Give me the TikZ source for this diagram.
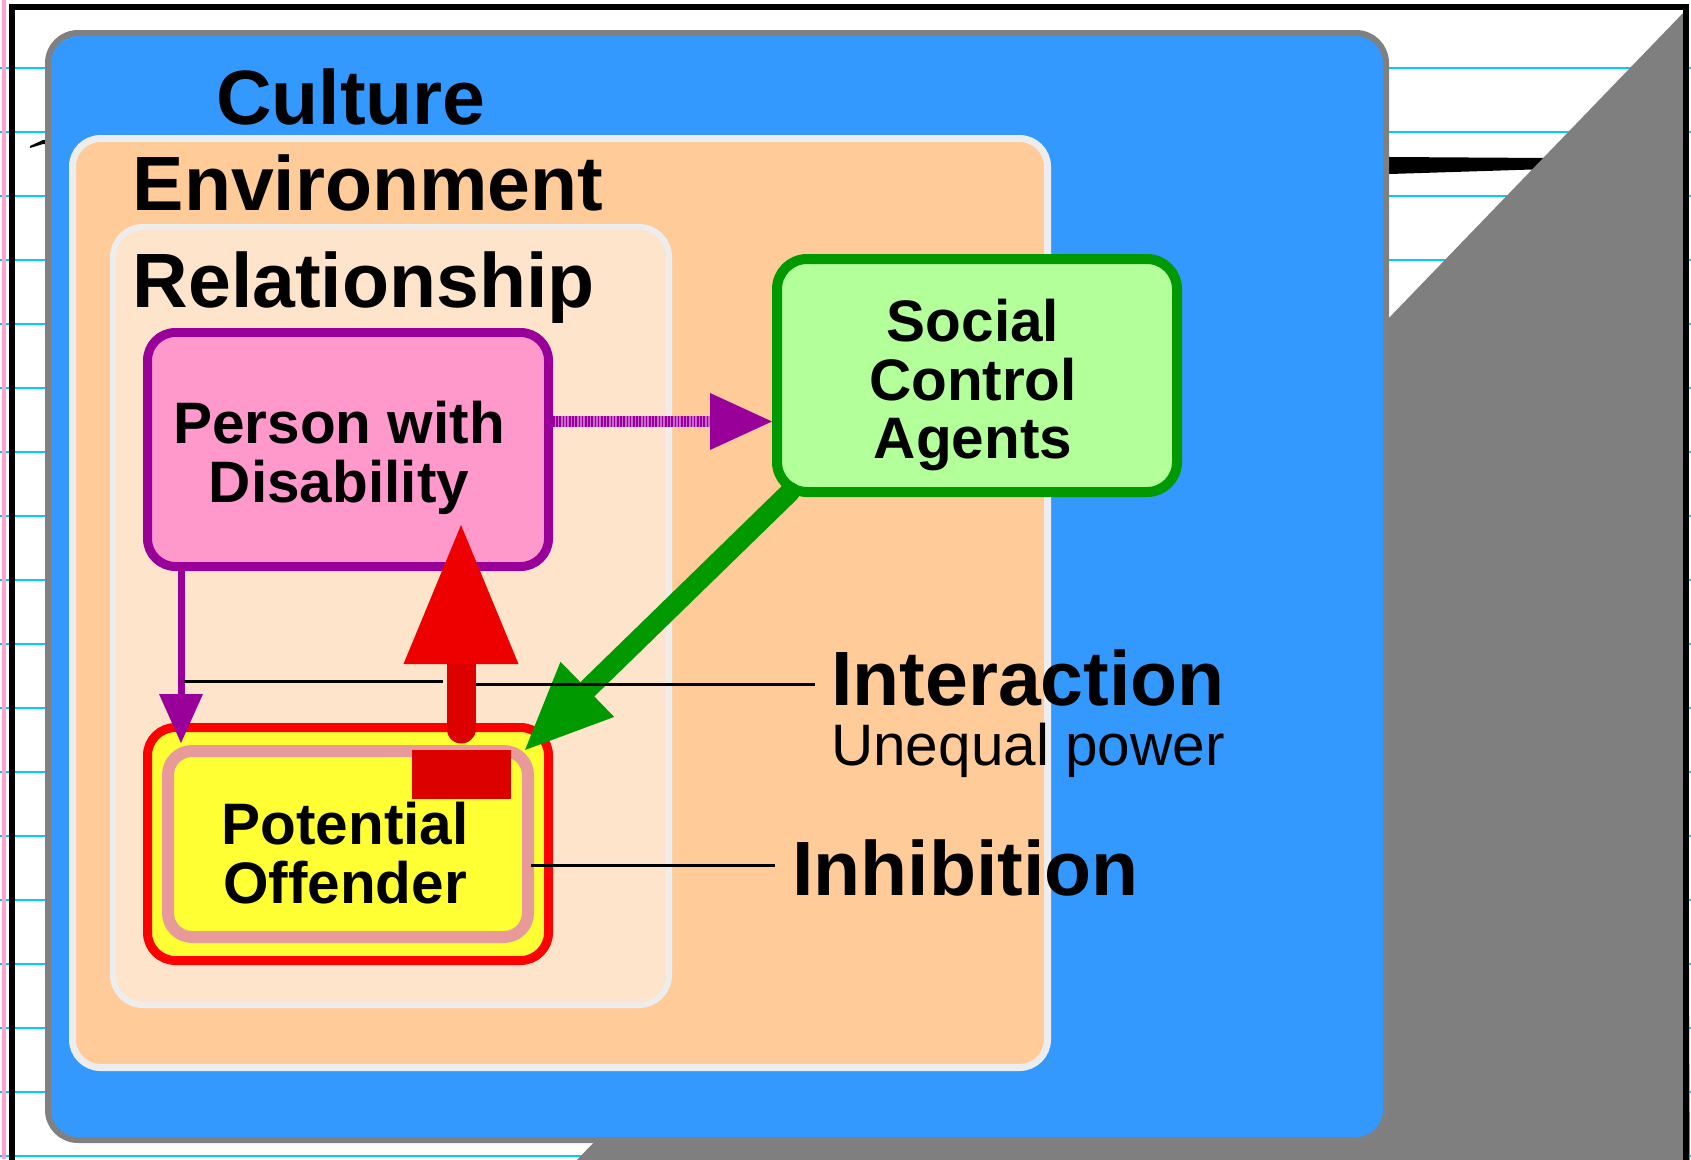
\documentclass[tikz,border=0pt]{standalone}
\usepackage{fontspec}
\setmainfont{Liberation Sans}
\usetikzlibrary{arrows.meta}
\definecolor{cblue}{HTML}{3399FF}
\definecolor{cgrayb}{HTML}{808080}
\definecolor{cshadow}{HTML}{7F7F7F}
\definecolor{envfill}{HTML}{FFCC99}
\definecolor{envborder}{HTML}{EDEDED}
\definecolor{relfill}{HTML}{FFE4CC}
\definecolor{pfill}{HTML}{FF99CC}
\definecolor{cpurple}{HTML}{990099}
\definecolor{plight}{HTML}{CC66CC}
\definecolor{sfill}{HTML}{B3FF99}
\definecolor{cgreen}{HTML}{009900}
\definecolor{cred}{HTML}{FF0000}
\definecolor{yfill}{HTML}{FFFF33}
\definecolor{pinkborder}{HTML}{E89A9A}
\definecolor{redshaft}{HTML}{DD0000}
\definecolor{redhead}{HTML}{EE0000}
\definecolor{ccyan}{HTML}{00CCFF}
\definecolor{pinkline}{HTML}{FFA0D0}
\begin{document}
\begin{tikzpicture}[x=1pt,y=-1pt,
  box/.style={rectangle,inner sep=0pt},
  bigtxt/.style={inner sep=0pt,anchor=base west,font=\fontsize{77}{77}\selectfont\bfseries},
  boxtxt/.style={inner sep=0pt,align=center,font=\fontsize{58.5}{58.5}\selectfont\bfseries},
  leader/.style={line width=3pt,black}]
\useasboundingbox (0,0) rectangle (1691,1159);
\clip (0,0) rectangle (1691,1159);
\fill[white] (0,0) rectangle (1691,1159);
% ruled lines
\foreach \k in {0,...,17}{
  \draw[ccyan,line width=1.5pt] (0,68+64*\k) -- (1691,68+64*\k);
}
\fill[pinkline] (2,0) rectangle (6,1159);
% scribble
\fill[black] (30,146) -- (43,140) -- (1390,157) -- (1548,158) -- (1548,169) -- (1390,174) -- (43,144) -- (30,148) -- cycle;
% shadow
\fill[cshadow] (1684,12) -- (1690,1165) -- (572,1165) -- cycle;
% frame
\draw[black,line width=6pt] (11.5,1180) -- (11.5,6.5) -- (1686,6.5) -- (1686,1180);
% nested boxes
\node[box,draw=cgrayb,fill=cblue,line width=6pt,rounded corners=30pt,minimum width=1338pt,minimum height=1107pt] (culture) at (717,586.5) {};
\node[box,draw=envborder,fill=envfill,line width=7pt,rounded corners=28pt,minimum width=975pt,minimum height=929pt] (environment) at (560,603) {};
\node[box,draw=envborder,fill=relfill,line width=6pt,rounded corners=30pt,minimum width=556pt,minimum height=778pt] (relationship) at (391,616) {};
\node[bigtxt] (culturetxt) at (216,124) {Culture};
\node[bigtxt] (envtxt) at (132.5,210) {Environment};
\node[bigtxt] (reltxt) at (132.5,307) {Relationship};
% actor boxes
\node[box,draw=cpurple,fill=pfill,line width=9pt,rounded corners=28pt,minimum width=401pt,minimum height=234pt] (person) at (348,449.5) {};
\node[box,draw=cred,fill=yfill,line width=9pt,rounded corners=28pt,minimum width=401pt,minimum height=233pt] (potential) at (348,844) {};
\node[box,draw=pinkborder,fill=yfill,line width=12pt,rounded corners=24pt,minimum width=360pt,minimum height=186pt] (potinner) at (348,844) {};
\node[box,draw=cgreen,fill=sfill,line width=10pt,rounded corners=30pt,minimum width=400pt,minimum height=233pt] (social) at (977,375.5) {};
% connectors
\coordinate (gS) at (790,492);
\coordinate (gT) at (525,750);
\draw[cgreen,line width=20pt,line cap=round,-{Triangle[length=87pt,width=77pt,line width=0pt]}] (gS) -- (gT);
\draw[plight,line width=11pt,-{Triangle[length=62pt,width=57pt,line width=0pt,color=cpurple,fill=cpurple]}] (person.east |- 0,421.5) -- (social.west |- 0,421.5);
\draw[cpurple,line width=11pt,dash pattern=on 1.6pt off 1.6pt] (person.east |- 0,421.5) -- (712,421.5);
\coordinate (pT) at (181,743);
\draw[cpurple,line width=7pt,-{Triangle[length=49pt,width=44pt,line width=0pt]}] (person.south -| pT) -- (pT);
% leader lines
\coordinate (iA) at (184,681);
\coordinate (iB) at (443,681);
\coordinate (iC) at (473,684);
\coordinate (iD) at (815,684);
\draw[leader] (iA) -- (iB);
\draw[leader] (iC) -- (iD);
\coordinate (hA) at (531,865);
\coordinate (hB) at (775,865);
\draw[leader] (hA) -- (hB);
% red arrow
\coordinate (rS) at (461,729);
\coordinate (rT) at (461,525);
\draw[redshaft,line width=29pt,line cap=round,-{Triangle[length=139pt,width=115pt,line width=0pt,color=redhead,fill=redhead]}] (rS) -- (rT);
\fill[redshaft] (412,750) rectangle (511,799);
% texts
\node[boxtxt] (persontxt) at (339,458) {Person with\\Disability};
\node[boxtxt] (socialtxt) at (973,385) {Social\\Control\\Agents};
\node[boxtxt] (pottxt) at (345,853) {Potential\\Offender};
\node[bigtxt] (interaction) at (831,705) {Interaction};
\node[inner sep=0pt,anchor=base west,font=\fontsize{58.5}{58.5}\selectfont] (unequal) at (831,765) {Unequal power};
\node[bigtxt] (inhibition) at (792,895) {Inhibition};
\end{tikzpicture}
\end{document}
